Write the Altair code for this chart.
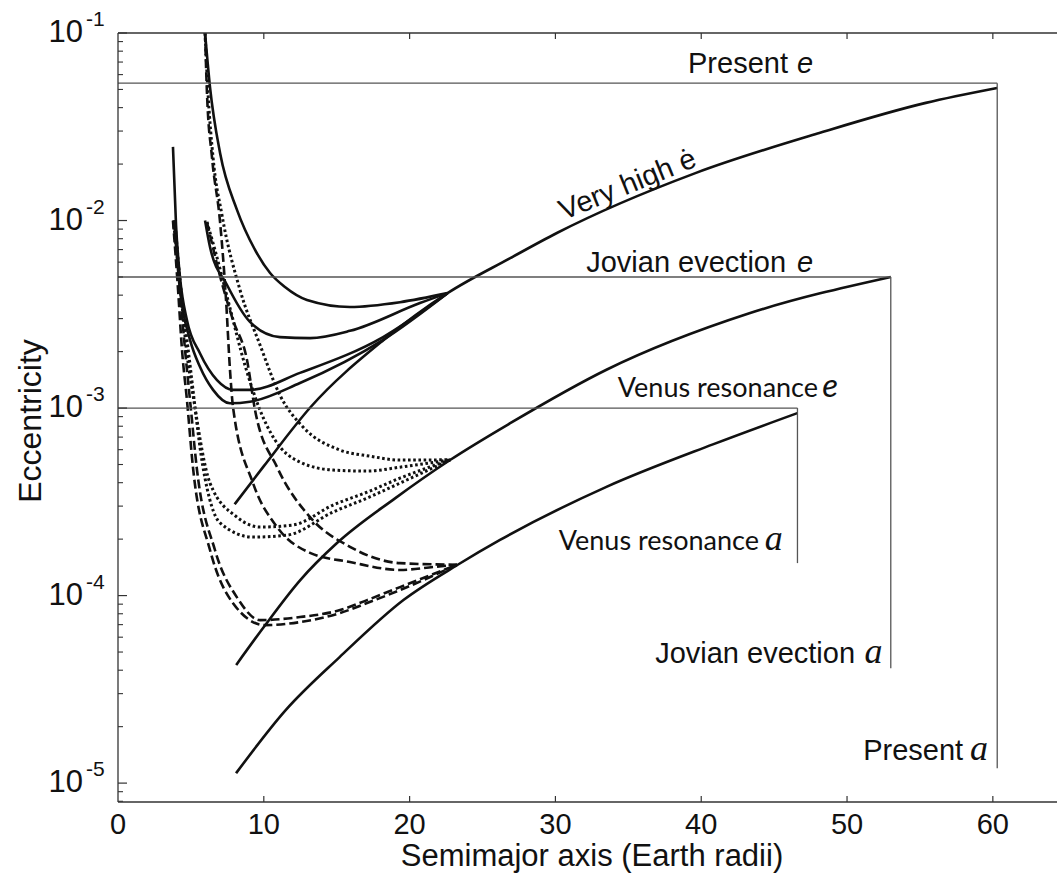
import altair as alt
import pandas as pd

# ---------------- data ----------------
# main evolution tracks (solid)
very_high_a = [8.0, 10.0, 13.2, 18.2, 22.6, 26.9, 30.1, 39.6, 48.1, 55.4, 60.3]
very_high_e = [3.07e-4, 4.9e-4, 1.01e-3, 2.3e-3, 4.1e-3, 6.3e-3, 8.58e-3, 0.0179, 0.0293, 0.0424, 0.0509]
jovian_a = [8.1, 10.0, 12.5, 15.0, 19.0, 22.8, 26.9, 33.5, 43.3, 53.0]
jovian_e = [4.26e-5, 6.8e-5, 1.21e-4, 1.9e-4, 3.3e-4, 5.3e-4, 8.3e-4, 1.6e-3, 3.2e-3, 5.0e-3]
venus_a = [8.1, 11.5, 15.2, 19.6, 23.3, 26.2, 33.5, 40.8, 46.6]
venus_e = [1.13e-5, 2.45e-5, 4.7e-5, 9.5e-5, 1.46e-4, 1.98e-4, 3.8e-4, 6.4e-4, 9.4e-4]

# solid tidal curves converging on the "very high e-dot" track
sa_a = [5.97, 6.31, 7.00, 8.16, 9.40, 10.43, 11.45, 12.96, 15.91, 19.34, 22.6]
sa_e = [0.1, 0.0515, 0.0229, 0.0114, 0.00697, 0.00525, 0.00442, 0.00377, 0.00346, 0.00367, 0.0041]
sb_a = [5.97, 6.31, 7.48, 9.05, 11.11, 13.17, 15.91, 20.71, 22.6]
sb_e = [0.01, 0.00722, 0.00453, 0.00288, 0.00239, 0.00236, 0.00258, 0.00363, 0.0041]
sc_a = [3.77, 3.98, 4.25, 4.73, 5.62, 6.79, 7.89, 9.05, 12.48, 18.18, 22.6]
sc_e = [0.0247, 0.00946, 0.0050, 0.00294, 0.00196, 0.00141, 0.00125, 0.00125, 0.00154, 0.00239, 0.0041]
sd_a = [3.84, 4.25, 4.94, 5.62, 6.52, 7.68, 9.05, 12.48, 18.18, 22.6]
sd_e = [0.01, 0.00426, 0.00231, 0.00166, 0.00125, 0.00106, 0.00108, 0.00136, 0.00231, 0.0041]

# dotted curves converging on the Jovian evection track
t1_a = [5.97, 6.17, 6.52, 7.13, 8.37, 9.74, 11.11, 12.69, 15.23, 17.28, 19.34, 22.8]
t1_e = [0.1, 0.0484, 0.0216, 0.0107, 0.00426, 0.00217, 0.00117, 7.92e-4, 5.97e-4, 5.54e-4, 5.28e-4, 5.3e-4]
t2_a = [6.10, 6.65, 7.54, 8.71, 9.74, 10.77, 12.48, 14.75, 17.08, 19.34, 22.8]
t2_e = [0.00982, 0.00697, 0.00377, 0.00169, 9.75e-4, 6.75e-4, 5.15e-4, 4.67e-4, 4.61e-4, 4.84e-4, 5.3e-4]
l1_a = [3.90, 4.30, 4.70, 5.20, 6.31, 8.16, 9.74, 12.00, 14.75, 17.08, 19.34, 22.8]
l1_e = [0.01, 0.00426, 0.00204, 0.0011, 3.98e-4, 2.62e-4, 2.32e-4, 2.38e-4, 3.04e-4, 3.56e-4, 4.23e-4, 5.3e-4]
l2_a = [3.80, 4.40, 4.90, 5.83, 7.00, 9.26, 11.59, 14.75, 17.08, 19.34, 22.8]
l2_e = [0.01, 0.00377, 0.0018, 4.84e-4, 2.44e-4, 2.05e-4, 2.10e-4, 2.79e-4, 3.31e-4, 3.98e-4, 5.3e-4]

# dashed curves converging on the Venus resonance track
d1_a = [5.97, 6.10, 6.45, 7.00, 7.41, 7.68, 7.89, 9.26, 10.91, 13.17, 15.91, 19.34, 21.60, 23.25]
d1_e = [0.1, 0.0484, 0.0216, 0.00982, 0.00377, 0.0016, 0.00101, 3.98e-4, 2.32e-4, 1.69e-4, 1.51e-4, 1.37e-4, 1.42e-4, 1.46e-4]
d2_a = [6.10, 7.20, 7.89, 8.85, 9.40, 10.91, 13.17, 15.91, 19.34, 23.25]
d2_e = [0.00982, 0.00442, 0.00294, 0.0018, 9.75e-4, 4.84e-4, 2.62e-4, 1.82e-4, 1.49e-4, 1.46e-4]
ld1_a = [3.77, 4.12, 4.39, 4.73, 5.14, 6.31, 7.89, 10.08, 12.48, 15.23, 17.08, 19.34, 23.25]
ld1_e = [0.01, 0.00426, 0.00204, 0.0011, 4.84e-4, 1.75e-4, 9.1e-5, 6.96e-5, 7.22e-5, 8.07e-5, 9.12e-5, 1.07e-4, 1.46e-4]
ld2_a = [3.91, 4.25, 4.60, 4.94, 5.42, 6.65, 8.23, 9.74, 12.48, 15.23, 17.08, 19.34, 23.25]
ld2_e = [0.01, 0.00426, 0.00204, 0.0011, 4.67e-4, 1.75e-4, 9.6e-5, 7.40e-5, 7.68e-5, 8.37e-5, 9.46e-5, 1.11e-4, 1.46e-4]

# reference levels (present / Jovian evection / Venus resonance)
ref_names = ["Present", "Jovian evection", "Venus resonance"]
ref_e = [0.054, 5.0e-3, 1.0e-3]
ref_a = [60.3, 53.0, 46.6]
ref_bottom_e = [1.2e-5, 4.1e-5, 1.49e-4]

x_ticks = [0, 10, 20, 30, 40, 50, 60]
x_tick_labels = ["0", "10", "20", "30", "40", "50", "60"]
y_decades = [1e-1, 1e-2, 1e-3, 1e-4, 1e-5]
y_exponents = ["-1", "-2", "-3", "-4", "-5"]
y_minor = [k * 10.0 ** p for p in (-6, -5, -4, -3, -2) for k in range(2, 10)]
y_minor = [v for v in y_minor if 7.95e-6 < v < 0.1]
x_title = "Semimajor axis (Earth radii)"
y_title = "Eccentricity"

# annotation texts
lab_sans = ["Present", "Jovian evection", "Jovian evection", "Present"]
lab_sans_a = [45.95, 45.82, 50.55, 57.96]
lab_sans_e = [0.0612, 5.31e-3, 4.36e-5, 1.33e-5]
lab_venus = ["Venus resonance", "Venus resonance"]
lab_venus_a = [48.01, 43.96]
lab_venus_e = [1.145e-3, 1.75e-4]
it_e_a = [46.57, 46.57]
it_e_e = [0.0612, 5.31e-3]
it_ve_a = [48.3]
it_ve_e = [1.145e-3]
it_a_a = [44.35, 51.2, 58.44]
it_a_e = [1.75e-4, 4.36e-5, 1.33e-5]

# ---------------- build chart ----------------
W, H = 939, 769
FONT = "Liberation Sans"
INK = "#111"
FRAME = "#333"
xs = alt.Scale(domain=[0, 64.4], nice=False, zero=False)
ys = alt.Scale(type="log", domain=[7.93e-6, 0.1], nice=False)


def X():
    return alt.X("a:Q", scale=xs, axis=None)


def Y():
    return alt.Y("e:Q", scale=ys, axis=None)


def curve_df(pairs):
    rows = []
    for name, (aa, ee) in pairs.items():
        for i, (a, e) in enumerate(zip(aa, ee)):
            rows.append({"curve": name, "a": a, "e": e, "i": i})
    return pd.DataFrame(rows)


solid_df = curve_df({"vh": (very_high_a, very_high_e), "jv": (jovian_a, jovian_e),
                     "vn": (venus_a, venus_e), "sa": (sa_a, sa_e), "sb": (sb_a, sb_e),
                     "sc": (sc_a, sc_e), "sd": (sd_a, sd_e)})
dotted_df = curve_df({"t1": (t1_a, t1_e), "t2": (t2_a, t2_e), "l1": (l1_a, l1_e), "l2": (l2_a, l2_e)})
dashed_df = curve_df({"d1": (d1_a, d1_e), "d2": (d2_a, d2_e), "ld1": (ld1_a, ld1_e), "ld2": (ld2_a, ld2_e)})

solid = alt.Chart(solid_df).mark_line(color=INK, strokeWidth=2.6, interpolate="monotone").encode(
    x=X(), y=Y(), detail="curve:N", order="i:Q")
dotted = alt.Chart(dotted_df).mark_line(color=INK, strokeWidth=3, strokeDash=[2.6, 2.6],
                                       interpolate="monotone").encode(
    x=X(), y=Y(), detail="curve:N", order="i:Q")
dashed = alt.Chart(dashed_df).mark_line(color=INK, strokeWidth=2.6, strokeDash=[9, 4],
                                       interpolate="monotone").encode(
    x=X(), y=Y(), detail="curve:N", order="i:Q")

ref_df = pd.DataFrame({"name": ref_names, "e": ref_e, "a": ref_a, "eb": ref_bottom_e,
                       "a0": [0.0] * len(ref_names)})
ref_h = alt.Chart(ref_df).mark_rule(color="#555", strokeWidth=1.3).encode(
    x=alt.X("a0:Q", scale=xs, axis=None), x2="a:Q", y=Y())
ref_v = alt.Chart(ref_df).mark_rule(color="#555", strokeWidth=1.3).encode(
    x=X(), y=Y(), y2="eb:Q")

# frame lines (left, bottom, top; no right border visible)
one = pd.DataFrame({"k": [0]})
top_line = alt.Chart(one).mark_rule(color=FRAME, strokeWidth=1.3).encode(
    x=alt.value(0), x2=alt.value(W), y=alt.value(0))
bottom_line = alt.Chart(one).mark_rule(color=FRAME, strokeWidth=1.3).encode(
    x=alt.value(0), x2=alt.value(W), y=alt.value(H))
left_line = alt.Chart(one).mark_rule(color=FRAME, strokeWidth=1.3).encode(
    x=alt.value(0), y=alt.value(0), y2=alt.value(H))

# inward ticks
xt_df = pd.DataFrame({"a": x_ticks, "lab": x_tick_labels})
xt_in = xt_df[xt_df["a"] > 0]
xt_bottom = alt.Chart(xt_in).mark_rule(color=FRAME, strokeWidth=1.2).encode(
    x=X(), y=alt.value(H), y2=alt.value(H - 6))
xt_top = alt.Chart(xt_in).mark_rule(color=FRAME, strokeWidth=1.2).encode(
    x=X(), y=alt.value(0), y2=alt.value(6))
yt_df = pd.DataFrame({"e": y_decades, "exp": y_exponents})
ymin_df = pd.DataFrame({"e": y_minor})
yt_major = alt.Chart(yt_df).mark_rule(color=FRAME, strokeWidth=1.2).encode(
    x=alt.value(0), x2=alt.value(9), y=Y())
yt_minor = alt.Chart(ymin_df).mark_rule(color=FRAME, strokeWidth=1.1).encode(
    x=alt.value(0), x2=alt.value(5), y=Y())

# tick labels
xlab = alt.Chart(xt_df).mark_text(font=FONT, fontSize=29, align="center", baseline="alphabetic",
                                  color=INK).encode(x=X(), y=alt.value(H + 32), text="lab:N")
ylab_base = alt.Chart(yt_df).mark_text(font=FONT, fontSize=31, align="right", baseline="middle",
                                       color=INK).encode(
    x=alt.value(-35), y=Y(), text=alt.value("10"))
ylab_exp = alt.Chart(yt_df).mark_text(font=FONT, fontSize=21, align="left", baseline="middle",
                                      dy=-13, color=INK).encode(
    x=alt.value(-32), y=Y(), text="exp:N")

# axis titles
xtitle = alt.Chart(one).mark_text(font=FONT, fontSize=31, align="center", baseline="alphabetic",
                                  color=INK).encode(x=alt.value(474), y=alt.value(H + 64),
                                                    text=alt.value(x_title))
ytitle = alt.Chart(one).mark_text(font=FONT, fontSize=32, align="center", baseline="alphabetic",
                                  angle=270, color=INK).encode(x=alt.value(-77), y=alt.value(388),
                                                               text=alt.value(y_title))

# annotations
sans_df = pd.DataFrame({"t": lab_sans, "a": lab_sans_a, "e": lab_sans_e})
sans_txt = alt.Chart(sans_df).mark_text(font=FONT, fontSize=29, align="right", baseline="alphabetic",
                                        color=INK).encode(x=X(), y=Y(), text="t:N")
venus_df = pd.DataFrame({"t": lab_venus, "a": lab_venus_a, "e": lab_venus_e})
venus_txt = alt.Chart(venus_df).mark_text(font="Lato", fontSize=27, align="right", baseline="alphabetic",
                                          color=INK).encode(x=X(), y=Y(), text="t:N")
ite_df = pd.DataFrame({"a": it_e_a, "e": it_e_e})
ite_txt = alt.Chart(ite_df).mark_text(font=FONT, fontSize=29, fontStyle="italic", align="left",
                                      baseline="alphabetic", color=INK).encode(
    x=X(), y=Y(), text=alt.value("e"))
itve_df = pd.DataFrame({"a": it_ve_a, "e": it_ve_e})
itve_txt = alt.Chart(itve_df).mark_text(font="Lato", fontSize=33, fontStyle="italic", align="left",
                                        baseline="alphabetic", color=INK).encode(
    x=X(), y=Y(), text=alt.value("e"))
ita_df = pd.DataFrame({"a": it_a_a, "e": it_a_e})
ita_txt = alt.Chart(ita_df).mark_text(font="Liberation Serif", fontSize=36, fontStyle="italic",
                                      align="left", baseline="alphabetic", color=INK).encode(
    x=X(), y=Y(), text=alt.value("a"))
vh_df = pd.DataFrame({"a": [35.18], "e": [0.01402], "t": ["Very high ė"]})
vh_txt = alt.Chart(vh_df).mark_text(font=FONT, fontSize=29, angle=338, align="center",
                                    baseline="alphabetic", color=INK).encode(
    x=X(), y=Y(), text="t:N")

chart = alt.layer(
    solid, dotted, dashed,
    ref_h, ref_v, top_line, bottom_line, left_line, xt_bottom, xt_top, yt_major, yt_minor,
    xlab, ylab_base, ylab_exp, xtitle, ytitle,
    sans_txt, venus_txt, ite_txt, itve_txt, ita_txt, vh_txt,
).properties(
    width=W, height=H,
    padding={"left": 118, "top": 33, "right": 0, "bottom": 85},
    autosize=alt.AutoSizeParams(type="none"),
    background="white",
).configure_view(stroke=None)

chart.save("out.html", embed_options={"renderer": "svg", "actions": False})
